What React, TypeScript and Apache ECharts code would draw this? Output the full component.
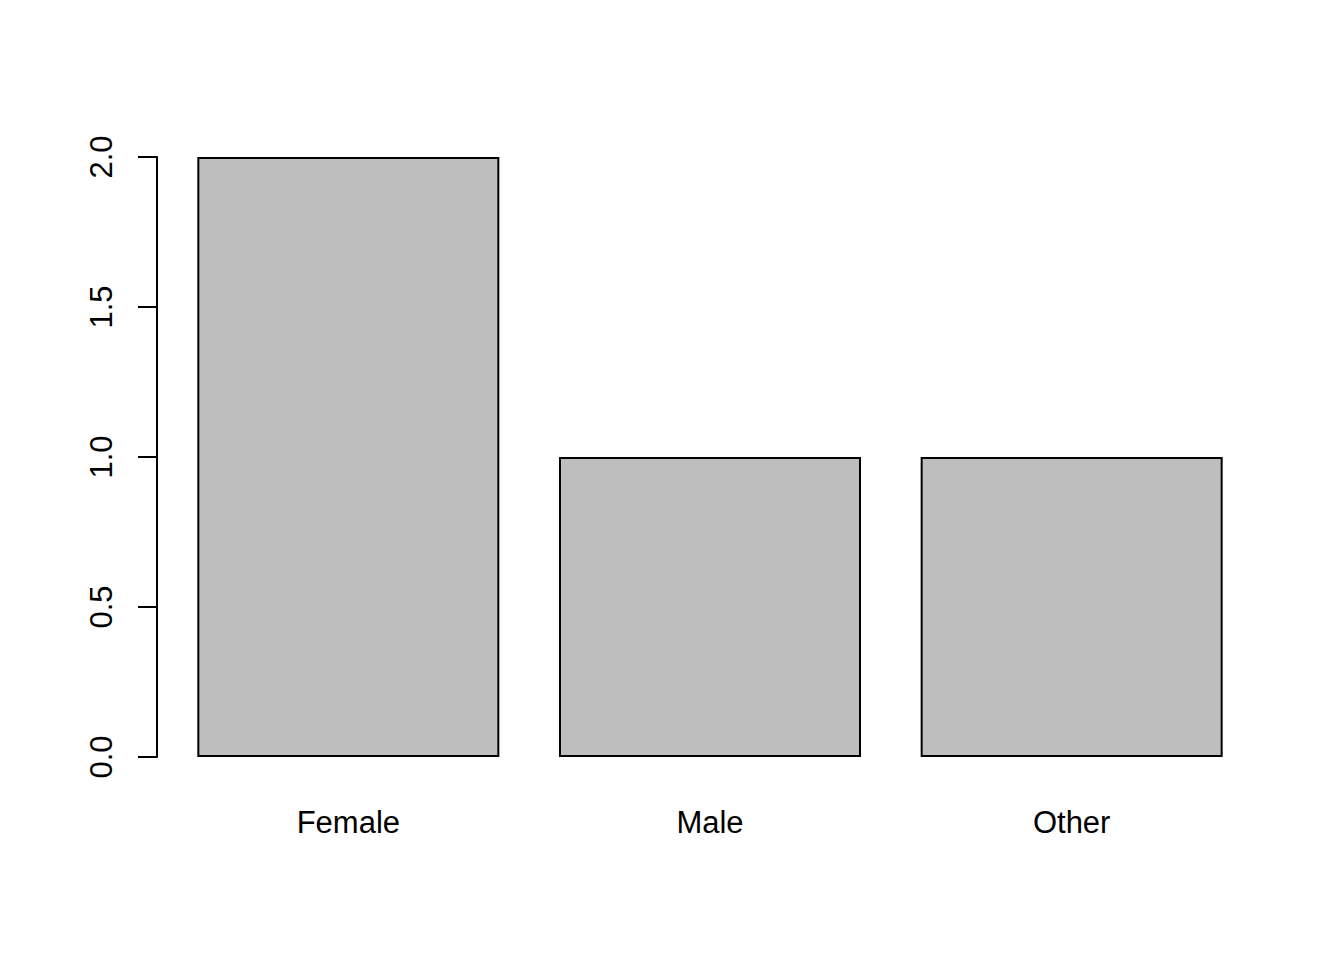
import React, { useEffect, useRef } from "react";
import * as echarts from "echarts";

const categories = ["Female", "Male", "Other"];
const counts = [2, 1, 1];
const yTicks = { min: 0, max: 2, interval: 0.5 };

export default function App() {
  const ref = useRef<HTMLDivElement>(null);
  useEffect(() => {
    if (!ref.current) return;
    const chart = echarts.init(ref.current, undefined, { renderer: "svg" });
    chart.setOption({
      animation: false,
      backgroundColor: "#ffffff",
      textStyle: { fontFamily: "Liberation Sans, Arial, sans-serif" },
      grid: { left: 167.5, right: 91.5, top: 157, bottom: 203 },
      xAxis: {
        type: "category",
        data: categories,
        axisLine: { show: false },
        axisTick: { show: false },
        axisLabel: {
          color: "#000",
          fontSize: 31,
          margin: 50,
          fontFamily: "Liberation Sans, Arial, sans-serif",
        },
        splitLine: { show: false },
      },
      yAxis: {
        type: "value",
        min: yTicks.min,
        max: yTicks.max,
        interval: yTicks.interval,
        offset: 10.5,
        axisLine: { show: true, lineStyle: { color: "#000", width: 2 } },
        axisTick: { show: true, length: 19, lineStyle: { color: "#000", width: 2 } },
        axisLabel: {
          color: "#000",
          fontSize: 31,
          rotate: 90,
          margin: 40,
          fontFamily: "Liberation Sans, Arial, sans-serif",
          formatter: (v: number) => v.toFixed(1),
        },
        splitLine: { show: false },
      },
      series: [
        {
          type: "bar",
          data: counts,
          barWidth: 302,
          itemStyle: { color: "#BEBEBE", borderColor: "#000", borderWidth: 2 },
        },
      ],
    });
    return () => chart.dispose();
  }, []);
  return (
    <div
      ref={ref}
      style={{ position: "absolute", left: 0, top: 0, width: 1344, height: 960 }}
    />
  );
}
